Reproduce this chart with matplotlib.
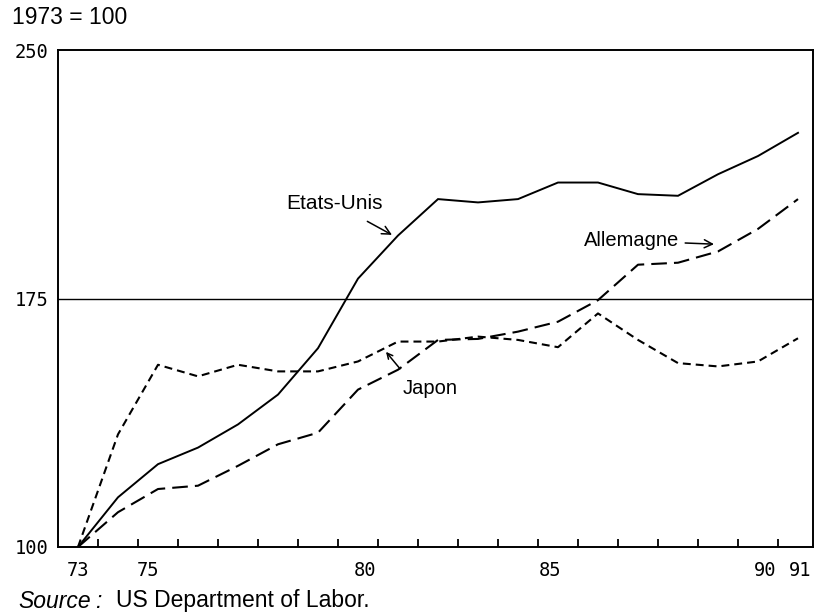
import matplotlib
matplotlib.use("Agg")
import matplotlib.pyplot as plt
from matplotlib.ticker import FixedLocator

# indices 1973 = 100
annees = list(range(1973, 1992))
etats_unis = [100, 115, 125, 130, 137, 146, 160, 181, 194, 205, 204, 205, 210, 210, 206.5, 206, 212.5, 218, 225]
japon = [100, 134, 155, 151.5, 155, 153, 153, 156, 162, 162, 163.5, 162.5, 160.3, 170.5, 162.5, 155.5, 154.5, 156, 163]
allemagne = [100, 110.5, 117.5, 118.5, 124.5, 131, 134.5, 147.5, 153.5, 162.5, 162.8, 165, 168, 174.5, 185.2, 185.8, 189.2, 196, 205]

# les etiquettes de l'original ne sont pas tout a fait centrees sur les annees
pos_etiquettes = [1973, 1974.75, 1980.17, 1984.8, 1990.17, 1991.05]
xlabels = ['73', '75', '80', '85', '90', '91']
yticks = [100, 175, 250]

fig = plt.figure(figsize=(8.2, 6.14), dpi=100)
ax = fig.add_axes([58 / 820, 67 / 614, 755 / 820, 497 / 614])

ax.plot(annees, etats_unis, color='black', lw=1.4, solid_joinstyle='miter')
ax.plot(annees, japon, color='black', lw=1.5, dashes=(3.8, 2.4))
ax.plot(annees, allemagne, color='black', lw=1.5, dashes=(7.5, 3.4))
ax.axhline(175, color='black', lw=1.0)

ax.set_xlim(1972.5, 1991.375)
ax.set_ylim(100, 250)

ax.xaxis.set_major_locator(FixedLocator(pos_etiquettes))
ax.set_xticklabels(xlabels)
ax.xaxis.set_minor_locator(FixedLocator([a + 0.5 for a in annees[:-1]]))
ax.set_yticks(yticks)
ax.tick_params(axis='x', which='major', length=0, pad=10)
ax.tick_params(axis='x', which='minor', direction='in', length=6, width=1.3)
ax.tick_params(axis='y', length=0, pad=7)
for lab in ax.get_xticklabels() + ax.get_yticklabels():
    lab.set_family('DejaVu Sans Mono')
    lab.set_fontsize(13.5)

for sp in ax.spines.values():
    sp.set_linewidth(1.4)

police = 'Liberation Sans'
ax.annotate('Etats-Unis', xy=(1980.85, 194.2), xytext=(1979.4, 203.8),
            ha='center', va='center', fontsize=15, family=police,
            arrowprops=dict(arrowstyle='->', color='black', lw=1.1, shrinkA=9, shrinkB=0))
ax.annotate('Allemagne', xy=(1988.9, 191.4), xytext=(1986.85, 192.4),
            ha='center', va='center', fontsize=14.5, family=police,
            arrowprops=dict(arrowstyle='->', color='black', lw=1.1, shrinkA=2, shrinkB=0))
ax.annotate('', xy=(1980.7, 158.9), xytext=(1981.05, 153.8),
            arrowprops=dict(arrowstyle='->', color='black', lw=1.1, shrinkA=0, shrinkB=0))
ax.text(1981.8, 147.7, 'Japon', ha='center', va='center', fontsize=14.5, family=police)

fig.text(12 / 820, 1 - 18 / 614, '1973 = 100', ha='left', va='center', fontsize=16.5, family=police)
fig.text(18 / 820, 1 - 601 / 614, 'Source', ha='left', va='center', fontsize=16.5,
         family=police, style='italic')
fig.text(95 / 820, 1 - 601 / 614, ':', ha='left', va='center', fontsize=16.5,
         family=police, style='italic')
fig.text(116 / 820, 1 - 601 / 614, 'US Department of Labor.', ha='left', va='center',
         fontsize=16.5, family=police)

fig.savefig('out.png', dpi=100)
